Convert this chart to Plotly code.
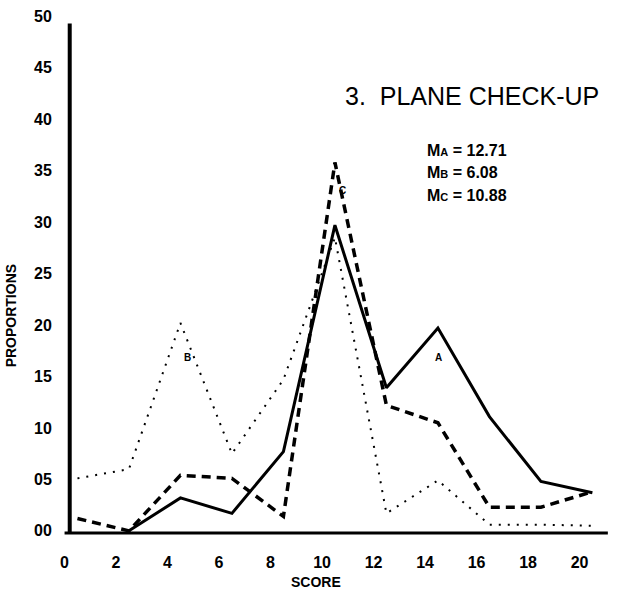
import plotly.graph_objects as go

scores = [0.5, 2.5, 4.5, 6.5, 8.5, 10.5, 12.5, 14.5, 16.5, 18.5, 20.5]
a_scores = [2.5, 4.5, 6.5, 8.5, 10.5, 12.5, 14.5, 16.5, 18.5, 20.5]
series_a = [0.0, 3.2, 1.7, 7.7, 29.7, 13.9, 19.7, 11.1, 4.8, 3.7]
series_b = [5.1, 6.0, 20.2, 7.5, 14.7, 28.5, 1.7, 4.9, 0.6, 0.6, 0.5]
series_c = [1.2, 0.0, 5.4, 5.1, 1.4, 35.8, 12.2, 10.5, 2.3, 2.3, 3.8]

x_ticks = [0, 2, 4, 6, 8, 10, 12, 14, 16, 18, 20]
x_ticktext = ["0", "2", "4", "6", "8", "10", "12", "14", "16", "18", "20"]
y_ticks = [0, 5, 10, 15, 20, 25, 30, 35, 40, 45, 50]
y_ticktext = ["00", "05", "10", "15", "20", "25", "30", "35", "40", "45", "50"]

title_text = "3.  PLANE CHECK-UP"
means = [("A", "12.71"), ("B", "6.08"), ("C", "10.88")]

FONT = "Liberation Sans"

fig = go.Figure()
fig.add_trace(go.Scatter(x=scores, y=series_b, mode="lines", name="B",
                         line=dict(color="black", width=2, dash="2px,7px")))
fig.add_trace(go.Scatter(x=scores, y=series_c, mode="lines", name="C",
                         line=dict(color="black", width=3.5, dash="9px,6px")))
fig.add_trace(go.Scatter(x=a_scores, y=series_a, mode="lines", name="A",
                         line=dict(color="black", width=3)))

# axis lines (hand-drawn style)
fig.add_shape(type="line", x0=0.2, x1=0.2, y0=-0.2, y1=49.3,
              line=dict(color="black", width=4), xref="x", yref="y")
fig.add_shape(type="line", x0=0.0, x1=21.1, y0=-0.2, y1=-0.2,
              line=dict(color="black", width=3), xref="x", yref="y")

ann = []
ann.append(dict(x=10.8, y=42.3, xref="x", yref="y", text=title_text, showarrow=False,
                xanchor="left", yanchor="middle",
                font=dict(family=FONT, size=25, color="black")))
for i, (k, v) in enumerate(means):
    ann.append(dict(x=14.0, y=37.0 - 2.2 * i, xref="x", yref="y",
                    text="<b>M<span style='font-size:11px'>%s</span> = %s</b>" % (k, v),
                    showarrow=False, xanchor="left", yanchor="middle",
                    font=dict(family=FONT, size=16, color="black")))
for lbl, lx, ly in [("A", 14.52, 16.8), ("B", 4.78, 16.8), ("C", 10.8, 33.1)]:
    ann.append(dict(x=lx, y=ly, xref="x", yref="y", text="<b>%s</b>" % lbl,
                    showarrow=False, font=dict(family=FONT, size=10, color="black")))
ann.append(dict(x=9.75, y=-0.086, xref="x", yref="paper", text="<b>SCORE</b>",
                showarrow=False, yanchor="middle",
                font=dict(family=FONT, size=14, color="black")))
ann.append(dict(x=-0.092, y=0.415, xref="paper", yref="paper", text="<b>PROPORTIONS</b>",
                showarrow=False, textangle=-90, xanchor="center", yanchor="middle",
                font=dict(family=FONT, size=14, color="black")))

fig.update_layout(
    width=637, height=595,
    margin=dict(l=62.4, r=23.6, t=5.7, b=58.8),
    paper_bgcolor="white", plot_bgcolor="white",
    showlegend=False,
    annotations=ann,
    xaxis=dict(range=[-0.1, 21.3], tickvals=x_ticks, ticktext=["<b>%s</b>" % t for t in x_ticktext],
               showgrid=False, zeroline=False, showline=False,
               ticks="outside", ticklen=12, tickcolor="rgba(0,0,0,0)",
               tickfont=dict(family=FONT, size=16, color="black")),
    yaxis=dict(range=[-0.5, 51], tickvals=y_ticks, ticktext=["<b>%s</b>" % t for t in y_ticktext],
               showgrid=False, zeroline=False, showline=False,
               ticks="outside", ticklen=6, tickcolor="rgba(0,0,0,0)",
               tickfont=dict(family=FONT, size=16, color="black")),
)

fig.write_html("out.html")
